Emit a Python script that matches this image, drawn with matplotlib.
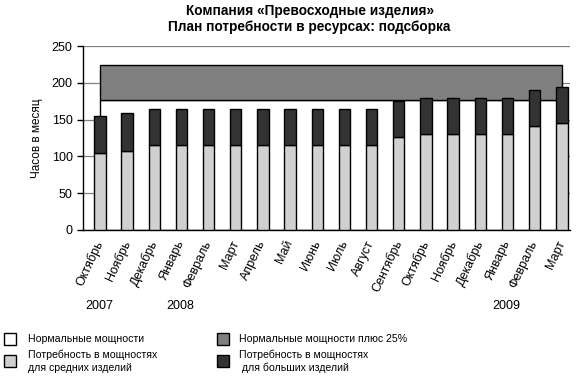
import matplotlib.pyplot as plt
from matplotlib.patches import Rectangle

months = ['Октябрь', 'Ноябрь', 'Декабрь', 'Январь', 'Февраль', 'Март', 'Апрель',
          'Май', 'Июнь', 'Июль', 'Август', 'Сентябрь', 'Октябрь', 'Ноябрь',
          'Декабрь', 'Январь', 'Февраль', 'Март']
medium = [105, 108, 115, 115, 115, 115, 115, 116, 116, 116, 116, 126, 131, 131, 130, 131, 142, 146]
large = [50, 51, 49, 49, 49, 50, 49, 49, 49, 49, 49, 49, 49, 49, 49, 49, 49, 49]
normal_cap = 177
plus25_cap = 224
years = ['2007', '2008', '2009']
year_pos = [0, 3, 15]

plt.rcParams['font.family'] = ['Liberation Sans', 'DejaVu Sans']

fig = plt.figure(figsize=(5.81, 3.91), dpi=100)
ax = fig.add_axes([0.143, 0.412, 0.838, 0.470])

x = list(range(len(months)))

ax.set_ylim(0, 250)
ax.set_xlim(-0.62, 17.3)
ax.set_yticks([0, 50, 100, 150, 200, 250])
ax.yaxis.grid(True, color='#808080', linewidth=0.9)
ax.set_axisbelow(True)

# normal capacity and +25% bands
ax.add_patch(Rectangle((0, 0), 17, normal_cap, facecolor='white', edgecolor='black',
                       linewidth=1, zorder=1.5))
ax.add_patch(Rectangle((0, normal_cap), 17, plus25_cap - normal_cap, facecolor='#808080',
                       edgecolor='black', linewidth=1, zorder=1.5))

ax.bar(x, medium, width=0.42, color='#d0d0d0', edgecolor='black', linewidth=1, zorder=3)
ax.bar(x, large, width=0.42, bottom=medium, color='#333333', edgecolor='black', linewidth=1, zorder=3)

ax.spines['top'].set_visible(False)
ax.spines['right'].set_visible(False)
ax.spines['left'].set_linewidth(1)
ax.spines['bottom'].set_linewidth(1)
ax.tick_params(axis='y', labelsize=9, length=4, width=1)
ax.tick_params(axis='x', length=0, pad=8)
ax.set_xticks(x)
ax.set_xticklabels(months, rotation=65, ha='right', va='center', rotation_mode='anchor',
                   fontsize=9)
ax.set_ylabel('Часов в месяц', fontsize=8.5, labelpad=6)

for yr, p in zip(years, year_pos):
    ax.text(p - 0.55, -0.415, yr, transform=ax.get_xaxis_transform(), fontsize=9,
            ha='left', va='center')

fig.text(0.533, 0.972, 'Компания «Превосходные изделия»', ha='center', va='center',
         fontsize=9.8, fontweight='bold')
fig.text(0.533, 0.932, 'План потребности в ресурсах: подсборка', ha='center', va='center',
         fontsize=9.8, fontweight='bold')

# legend
leg = [
    (4, 333, 'white', 'Нормальные мощности', 28, 339),
    (4, 355, '#d0d0d0', 'Потребность в мощностях\nдля средних изделий', 28, 361),
    (217, 333, '#808080', 'Нормальные мощности плюс 25%', 239, 339),
    (217, 355, '#333333', 'Потребность в мощностях\n для больших изделий', 239, 361),
]
for sx, sy, col, lab, tx, ty in leg:
    fig.patches.append(Rectangle((sx / 581, 1 - (sy + 12) / 391), 12 / 581, 12 / 391,
                                 transform=fig.transFigure, facecolor=col,
                                 edgecolor='black', linewidth=1))
    fig.text(tx / 581, 1 - ty / 391, lab, fontsize=7.6, ha='left', va='center',
             linespacing=1.35)

fig.savefig('out.png', dpi=100)
